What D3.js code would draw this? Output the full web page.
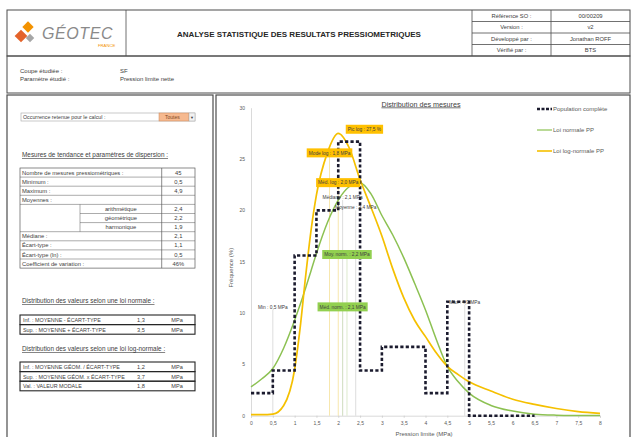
<!DOCTYPE html>
<html>
<head>
<meta charset="utf-8">
<script src="https://cdn.jsdelivr.net/npm/d3@7"></script>
<style>
  html, body { margin: 0; padding: 0; background: #fff; }
  svg { display: block; font-family: "Liberation Sans", Arial, sans-serif; }
</style>
</head>
<body>
<svg id="page" width="636" height="437"></svg>
<script>
// ---- Données ----
// Classes de pression limite (MPa, borne inférieure) et fréquences mesurées (%)
const classStarts = [0, 0.5, 1.0, 1.5, 2.0, 2.5, 3.0, 3.5, 4.0, 4.5, 5.0, 5.5, 6.0, 6.5];
const experimentalFreq = [2.2, 4.4, 15.6, 20.0, 26.7, 4.4, 6.7, 6.7, 2.2, 11.1, 0, 0, 0, 0];

// Lois ajustées (fréquence %, par pression limite en MPa)
const curvePressures = [0, 0.25, 0.5, 0.75, 1.0, 1.125, 1.25, 1.375, 1.5, 1.75, 2.0, 2.25, 2.5, 2.75, 3.0, 3.25, 3.5, 3.75, 4.0, 4.25, 4.5, 4.75, 5.0, 5.5, 6.0, 6.5, 7.0, 7.5, 8.0];
const normalFreq = [2.8, 3.6, 4.6, 6.6, 9.3, 10.8, 12.4, 14.1, 15.8, 18.8, 21.0, 22.3, 22.7, 21.6, 19.5, 17.6, 15.4, 12.9, 10.3, 7.4, 4.8, 3.3, 2.2, 1.0, 0.45, 0.15, 0.05, 0.02, 0.01];
const logNormalFreq = [0.1, 0.1, 0.15, 1.0, 4.5, 8.5, 13.5, 18.0, 21.5, 25.6, 27.5, 26.1, 23.0, 20.3, 17.5, 14.3, 11.5, 9.3, 7.7, 6.1, 4.8, 4.0, 3.3, 2.4, 1.6, 1.1, 0.7, 0.4, 0.23];

// Axes
const xTicks = [0, 0.5, 1, 1.5, 2, 2.5, 3, 3.5, 4, 4.5, 5, 5.5, 6, 6.5, 7, 7.5, 8];
const yTicks = [0, 5, 10, 15, 20, 25, 30];

// Repères statistiques (valeur en MPa, niveau de l'étiquette en %)
const plainLabels = ["Min : 0,5 MPa", "Max : 4,9 MPa", "Médiane : 2,1 MPa", "Moyenne : 2,4 MPa"];
const plainValues = [0.5, 4.9, 2.1, 2.4];
const plainLevels = [10.6, 11.1, 21.3, 20.3];

const logLabels = ["Pic log : 27,5 %", "Mode log : 1,8 MPa", "Méd. log : 2,0 MPa"];
const logValues = [2.6, 1.8, 2.0];
const logLevels = [27.9, 25.6, 22.7];
const logHasLine = [false, true, true];

const normLabels = ["Moy. norm. : 2,2 MPa", "Méd. norm. : 2,1 MPa"];
const normValues = [2.2, 2.1];
const normLevels = [15.7, 10.6];

// Légende
const legendNames = ["Population complète", "Loi normale PP", "Loi log-normale PP"];

// Tableau des statistiques
const statLabels = ["Nombre de mesures pressiométriques :", "Minimum :", "Maximum :", "Moyennes :", "arithmétique", "géométrique", "harmonique", "Médiane :", "Écart-type :", "Écart-type (ln) :", "Coefficient de variation :"];
const statValues = ["45", "0,5", "4,9", "", "2,4", "2,2", "1,9", "2,1", "1,1", "0,5", "46%"];

const normalRangeLabels = ["Inf. : MOYENNE - ÉCART-TYPE", "Sup. : MOYENNE + ÉCART-TYPE"];
const normalRangeValues = ["1,3", "3,5"];
const logRangeLabels = ["Inf. : MOYENNE GÉOM. / ÉCART-TYPE", "Sup. : MOYENNE GÉOM. x ÉCART-TYPE", "Val. : VALEUR MODALE"];
const logRangeValues = ["1,2", "3,7", "1,8"];

const headerKeys = ["Référence SO :", "Version :", "Développé par :", "Vérifié par :"];
const headerValues = ["00/00209", "v2", "Jonathan ROFF", "BTS"];

// ---- Dessin ----
const svg = d3.select("#page");
const ink = "#404040";
const frame = "#595959";

function box(x, y, w, h, stroke = frame, sw = 0.8, fill = "none") {
  return svg.append("rect").attr("x", x).attr("y", y).attr("width", w).attr("height", h)
    .attr("fill", fill).attr("stroke", stroke).attr("stroke-width", sw);
}
function hline(x1, x2, y, stroke = frame, sw = 0.6) {
  svg.append("line").attr("x1", x1).attr("x2", x2).attr("y1", y).attr("y2", y)
    .attr("stroke", stroke).attr("stroke-width", sw);
}
function vline(x, y1, y2, stroke = frame, sw = 0.6) {
  svg.append("line").attr("x1", x).attr("x2", x).attr("y1", y1).attr("y2", y2)
    .attr("stroke", stroke).attr("stroke-width", sw);
}
function label(x, y, t, size = 5, anchor = "start", fill = ink, weight = "normal") {
  return svg.append("text").attr("x", x).attr("y", y).attr("font-size", size)
    .attr("text-anchor", anchor).attr("fill", fill).attr("font-weight", weight).text(t);
}

// En-tête
box(7, 10, 623, 46, "#4d4d4d", 1);
vline(126, 10, 56, "#4d4d4d", 0.8);
vline(472, 10, 56, "#4d4d4d", 0.8);
vline(551, 10, 56, "#4d4d4d", 0.8);
headerKeys.forEach((k, i) => {
  const y0 = 10 + i * 11.5;
  if (i > 0) hline(472, 630, y0, "#4d4d4d", 0.8);
  label(511.5, y0 + 7.9, k, 5.8, "middle");
  label(590.5, y0 + 7.9, headerValues[i], 5.8, "middle");
});
label(299, 36.5, "ANALYSE STATISTIQUE DES RESULTATS PRESSIOMETRIQUES", 8, "middle", "#262626", "bold");

// Logo
const logo = svg.append("g").attr("transform", "translate(24,33)");
logo.append("rect").attr("x", -4).attr("y", -4).attr("width", 8).attr("height", 8)
  .attr("transform", "translate(4,-6) rotate(45)").attr("fill", "#f39200");
logo.append("rect").attr("x", -4.5).attr("y", -4.5).attr("width", 9).attr("height", 9)
  .attr("transform", "translate(-3,3) rotate(45)").attr("fill", "#e4632a");
logo.append("rect").attr("x", -3).attr("y", -3).attr("width", 6).attr("height", 6)
  .attr("transform", "translate(6,5) rotate(45)").attr("fill", "#a6a6a6");
label(42, 39, "GÉOTEC", 16, "start", "#8a8a8a").attr("font-style", "italic").attr("letter-spacing", 0.6);
label(98, 47, "FRANCE", 4.2, "start", "#f39200");

// Bandeau d'identification
box(7, 56, 623, 37, "#4d4d4d", 1);
label(20, 73, "Coupe étudiée :", 6);
label(20, 81, "Paramètre étudié :", 6);
label(120, 73, "SF", 6);
label(120, 81, "Pression limite nette", 6);

// Cadres principaux
box(7, 95, 206, 350, "#4d4d4d", 1.2);
box(216, 95, 414, 350, "#4d4d4d", 1.2);

// Panneau gauche : sélection
box(21, 113, 174, 8, "#a6a6a6", 0.6);
label(23, 119.3, "Occurrence retenue pour le calcul :", 5.3);
box(159, 113, 30, 8, "#c9875a", 0.5, "#f6b98f");
box(189, 113, 6, 8, "#a6a6a6", 0.5, "#f2f2f2");
label(192, 119, "▼", 4, "middle", "#404040");
label(165, 119.3, "Toutes", 5, "start", "#7f4a25");

// Tableau des mesures de tendance
label(22, 157, "Mesures de tendance et paramètres de dispersion :", 6.4).style("text-decoration", "underline");
const tX0 = 20, tX1 = 195, tXv = 161.7, tXs = 80, tY0 = 168, rowH = 9.1;
const subRows = [4, 5, 6];
box(tX0, tY0, tX1 - tX0, rowH * statLabels.length, frame, 0.7);
vline(tXv, tY0, tY0 + rowH * statLabels.length, frame, 0.7);
statLabels.forEach((t, i) => {
  const y0 = tY0 + i * rowH;
  if (i > 0) {
    const inSub = subRows.includes(i) && subRows.includes(i - 1);
    hline(inSub ? tXs : tX0, tX1, y0, frame, 0.5);
  }
  if (subRows.includes(i)) label((tXs + tXv) / 2, y0 + 6.6, t, 5.8, "middle");
  else label(tX0 + 2, y0 + 6.6, t, 5.8);
  label((tXv + tX1) / 2, y0 + 6.6, statValues[i], 5.8, "middle");
});
vline(tXs, tY0 + rowH * 4, tY0 + rowH * 7, frame, 0.5);

// Intervalles de distribution
function rangeTable(title, titleY, y0, names, values) {
  label(22, titleY, title, 6.4).style("text-decoration", "underline");
  names.forEach((n, i) => {
    const ry = y0 + i * 9.6;
    box(20, ry, 175, 9.6, "#262626", 1.1);
    label(23, ry + 6.9, n, 5.4);
    label(141, ry + 6.9, values[i], 5.6, "middle");
    label(177, ry + 6.9, "MPa", 5.6, "middle");
  });
}
rangeTable("Distribution des valeurs selon une loi normale :", 303, 315, normalRangeLabels, normalRangeValues);
rangeTable("Distribution des valeurs selon une loi log-normale :", 351, 362, logRangeLabels, logRangeValues);

// ---- Graphique ----
const x = d3.scaleLinear().domain([0, 8]).range([251, 600]);
const y = d3.scaleLinear().domain([0, 30]).range([415.7, 107.7]);
const fmt = v => String(v).replace(".", ",");

const axisColor = "#d0d0d0";
const yAxis = svg.append("g").attr("transform", `translate(${x(0)},0)`)
  .call(d3.axisLeft(y).tickValues(yTicks).tickSize(0).tickPadding(6).tickFormat(fmt));
const xAxis = svg.append("g").attr("transform", `translate(0,${y(0)})`)
  .call(d3.axisBottom(x).tickValues(xTicks).tickSize(2).tickPadding(4).tickFormat(fmt));
[yAxis, xAxis].forEach(a => {
  a.select(".domain").attr("stroke", axisColor).attr("stroke-width", 0.8);
  a.selectAll(".tick line").attr("stroke", axisColor);
  a.selectAll("text").attr("fill", "#595959").attr("font-size", 5)
    .attr("font-family", "Liberation Sans, Arial, sans-serif");
});

svg.append("text").attr("transform", `translate(233,${(y(0) + y(30)) / 2 + 6}) rotate(-90)`)
  .attr("text-anchor", "middle").attr("font-size", 6).attr("fill", "#595959").text("Fréquence (%)");
label(424, 436, "Pression limite (MPa)", 6, "middle", "#595959");
label(421, 106.5, "Distribution des mesures", 7.2, "middle", ink).style("text-decoration", "underline");

// Lignes verticales des repères
plainValues.forEach((v, i) => vline(x(v), y(0), y(plainLevels[i]) + 3, "#c8c8c8", 0.6));
logValues.forEach((v, i) => { if (logHasLine[i]) vline(x(v), y(0), y(logLevels[i]) + 4, "#f3dc8a", 0.7); });
normValues.forEach((v, i) => vline(x(v), y(0), y(normLevels[i]) + 4, "#cfe3b8", 0.7));

// Courbes ajustées
const curvePts = (arr) => curvePressures.map((p, i) => [p, arr[i]]);
const smooth = d3.line().x(d => x(d[0])).y(d => y(d[1])).curve(d3.curveMonotoneX);
svg.append("path").attr("d", smooth(curvePts(normalFreq)))
  .attr("fill", "none").attr("stroke", "#8cc152").attr("stroke-width", 1.5);
svg.append("path").attr("d", smooth(curvePts(logNormalFreq)))
  .attr("fill", "none").attr("stroke", "#f5c000").attr("stroke-width", 1.7);

// Histogramme expérimental (population complète)
const step = d3.line().x(d => x(d[0])).y(d => y(d[1])).curve(d3.curveStepAfter);
svg.append("path").attr("d", step(classStarts.map((p, i) => [p, experimentalFreq[i]])))
  .attr("fill", "none").attr("stroke", "#1b1b2e").attr("stroke-width", 2.6)
  .attr("stroke-dasharray", "3.2,2.2");

// Étiquettes
function tag(t, v, lvl, fill) {
  const g = svg.append("g");
  const tx = g.append("text").attr("x", x(v)).attr("y", y(lvl) + 1.8).attr("font-size", 4.8)
    .attr("text-anchor", "middle").attr("fill", ink).text(t);
  const w = tx.node().getComputedTextLength() + 4;
  if (fill) {
    g.insert("rect", "text").attr("x", x(v) - w / 2).attr("y", y(lvl) - 4.5)
      .attr("width", w).attr("height", 9).attr("fill", fill);
  }
}
plainLabels.forEach((t, i) => tag(t, plainValues[i], plainLevels[i], null));
logLabels.forEach((t, i) => tag(t, logValues[i], logLevels[i], "#ffc000"));
normLabels.forEach((t, i) => tag(t, normValues[i], normLevels[i], "#92d050"));

// Légende
const legendStyles = [
  { stroke: "#1b1b2e", width: 2.4, dash: "3,1.5" },
  { stroke: "#8cc152", width: 1.2, dash: null },
  { stroke: "#f5c000", width: 1.6, dash: null }
];
legendNames.forEach((n, i) => {
  const ly = 109 + i * 21;
  const s = legendStyles[i];
  svg.append("line").attr("x1", 537).attr("x2", 552).attr("y1", ly).attr("y2", ly)
    .attr("stroke", s.stroke).attr("stroke-width", s.width).attr("stroke-dasharray", s.dash);
  label(553, ly + 2, n, 6, "start", "#595959");
});
</script>
</body>
</html>
